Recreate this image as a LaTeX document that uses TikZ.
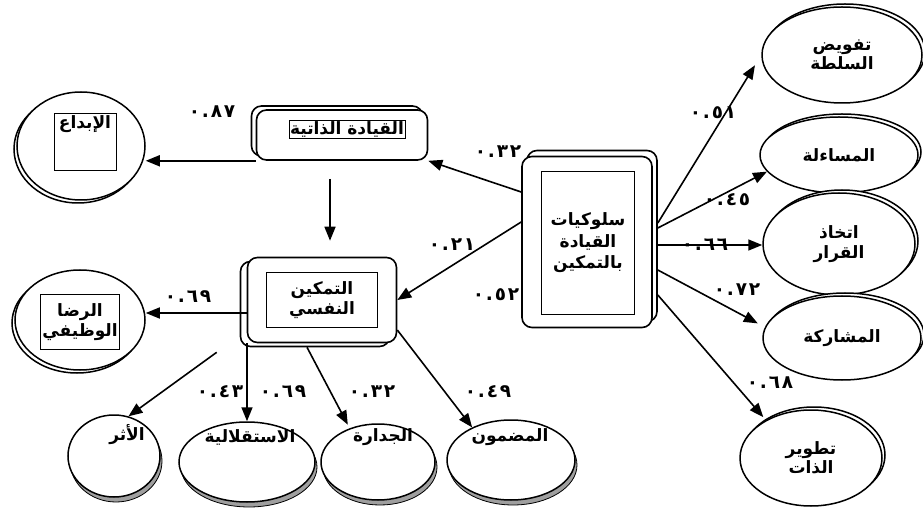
\documentclass[tikz,border=0pt]{standalone}
\usepackage{fontspec}
\newfontfamily\arfont[Script=Arabic]{DejaVu Sans Bold}
\newfontfamily\numfont[LetterSpace=10]{DejaVu Sans Bold}
\TeXXeTstate=1
\usetikzlibrary{shapes.geometric,shadows,arrows.meta}
\newcommand\ar[1]{{\arfont\beginR #1\endR}}
\newcommand\cf[1]{{\numfont\fontsize{18.5}{20}\selectfont #1}}
\begin{document}
\begin{tikzpicture}[x=1pt,y=-1pt,line width=1.6pt,
  >={Triangle[length=14pt,width=11pt]},
  box/.style={draw,rounded corners=10pt,fill=white,line width=1.6pt},
  tag/.style={draw,line width=0.7pt,inner sep=2pt,align=center},
  oval/.style={draw,ellipse,fill=white,line width=1.5pt,inner sep=0pt,align=center},
  rim/.style={general shadow={shadow xshift=2pt,shadow yshift=-5pt,fill=gray!75,draw=black,line width=0.8pt}},
  every node/.style={font=\fontsize{17}{19.5}\selectfont}]
\useasboundingbox (0,0) rectangle (923,526);
% boxes
\node[box,minimum width=130pt,minimum height=171pt,copy shadow={shadow xshift=5pt,shadow yshift=6pt}] (lead) at (587,242) {};
\node[tag,minimum width=93pt,minimum height=143pt] (leadt) at (588,243) {\ar{سلوكيات}\\[2pt]\ar{القيادة}\\[2pt]\ar{بالتمكين}};
\node[box,minimum width=171pt,minimum height=50pt,copy shadow={shadow xshift=-5pt,shadow yshift=4pt}] (selfl) at (342,135) {};
\node[tag,inner sep=1pt] (selflt) at (347,129) {\ar{القيادة الذاتية}};
\node[box,minimum width=149pt,minimum height=85pt,copy shadow={shadow xshift=-7pt,shadow yshift=-4pt}] (emp) at (322,300) {};
\node[tag,minimum width=111pt,minimum height=55pt] (empt) at (322,300) {\ar{التمكين}\\\ar{النفسي}};
% left ovals
\node[oval,minimum width=128pt,minimum height=108pt,copy shadow={shadow xshift=-3pt,shadow yshift=-3pt}] (ibda) at (81,146) {};
\node[tag,text width=58pt,text height=13pt,text depth=40pt] (ibdat) at (85,142) {\ar{الإبداع}};
\node[oval,minimum width=130pt,minimum height=100pt,copy shadow={shadow xshift=-3pt,shadow yshift=-3pt}] (ridha) at (80,320) {};
\node[tag,minimum width=74pt,minimum height=55pt] (ridhat) at (80,322) {\ar{الرضا}\\\ar{الوظيفي}};
% right ovals
\node[oval,minimum width=160pt,minimum height=96pt,copy shadow={shadow xshift=3pt,shadow yshift=3pt}] (tafwid) at (842,55) {\ar{تفويض}\\\ar{السلطة}};
\node[oval,minimum width=158pt,minimum height=76pt,copy shadow={shadow xshift=3pt,shadow yshift=3pt}] (musa) at (839,155) {\ar{المساءلة}};
\node[oval,minimum width=152pt,minimum height=102pt,copy shadow={shadow xshift=3pt,shadow yshift=3pt}] (qarar) at (839,244) {\ar{اتخاذ}\\\ar{القرار}};
\node[oval,minimum width=158pt,minimum height=84pt,copy shadow={shadow xshift=3pt,shadow yshift=3pt}] (mush) at (842,338) {\ar{المشاركة}};
\node[oval,minimum width=142pt,minimum height=96pt,copy shadow={shadow xshift=3pt,shadow yshift=3pt}] (tatwir) at (811,458) {\ar{تطوير}\\\ar{الذات}};
% bottom ovals
\node[oval,rim,minimum width=92pt,minimum height=82pt,label={[xshift=13pt,yshift=21pt]center:\ar{الأثر}}] (athar) at (114,456) {};
\node[oval,rim,minimum width=136pt,minimum height=80pt,label={[xshift=3pt,yshift=25pt]center:\ar{الاستقلالية}}] (istq) at (247,462) {};
\node[oval,rim,minimum width=114pt,minimum height=76pt,label={[xshift=5pt,yshift=25pt]center:\ar{الجدارة}}] (jadara) at (378,462) {};
\node[oval,rim,minimum width=128pt,minimum height=80pt,label={[xshift=-1pt,yshift=23pt]center:\ar{المضمون}}] (madmun) at (511,460) {};
% links
\draw[->] ([yshift=50pt]lead.west) -- (selfl.south east);
\draw[->] ([yshift=20pt]lead.west) -- (emp.east);
\draw[->] (selfl.south west) -- (selfl.south west -| ibda.east);
\draw[->] ([xshift=-12pt,yshift=-18pt]selfl.south) -- ([xshift=8pt,yshift=16pt]emp.north);
\draw[->] ([yshift=-13pt]emp.west) -- ([yshift=7pt]ridha.east);
\draw[->,shorten >=12pt] ([xshift=5pt,yshift=19pt]lead.east) -- (tafwid.west);
\draw[->] ([xshift=5pt,yshift=14pt]lead.east) -- (musa.193);
\draw[->] ([xshift=5pt,yshift=-3pt]lead.east) -- ([yshift=-1pt]qarar.west);
\draw[->,shorten >=8pt] ([xshift=5pt,yshift=-28pt]lead.east) -- (mush.172);
\draw[->,shorten >=4pt] ([xshift=5pt,yshift=-53pt]lead.east) -- (tatwir.140);
\draw[->] ([xshift=-30pt,yshift=-9pt]emp.south west) -- (athar.70);
\draw[->] (emp.south -| istq.north) -- (istq.north);
\draw[->,shorten >=4pt] ([xshift=-15pt,yshift=-4pt]emp.south) -- (jadara.130);
\draw[->] ([yshift=-30pt]emp.east) -- (madmun.140);
% coefficients
\node (c87) at (212,112) {\cf{٠.٨٧}};
\node (c32a) at (498,152) {\cf{٠.٣٢}};
\node (c21) at (452,245) {\cf{٠.٢١}};
\node (c52) at (496,295) {\cf{٠.٥٢}};
\node (c69a) at (188,297) {\cf{٠.٦٩}};
\node (c51) at (713,113) {\cf{٠.٥١}};
\node (c45) at (727,200) {\cf{٠.٤٥}};
\node (c66) at (705,245) {\cf{٠.٦٦}};
\node (c72) at (737,290) {\cf{٠.٧٢}};
\node (c68) at (770,383) {\cf{٠.٦٨}};
\node (c43) at (220,392) {\cf{٠.٤٣}};
\node (c69b) at (283,392) {\cf{٠.٦٩}};
\node (c32b) at (372,392) {\cf{٠.٣٢}};
\node (c49) at (488,392) {\cf{٠.٤٩}};
\end{tikzpicture}
\end{document}
